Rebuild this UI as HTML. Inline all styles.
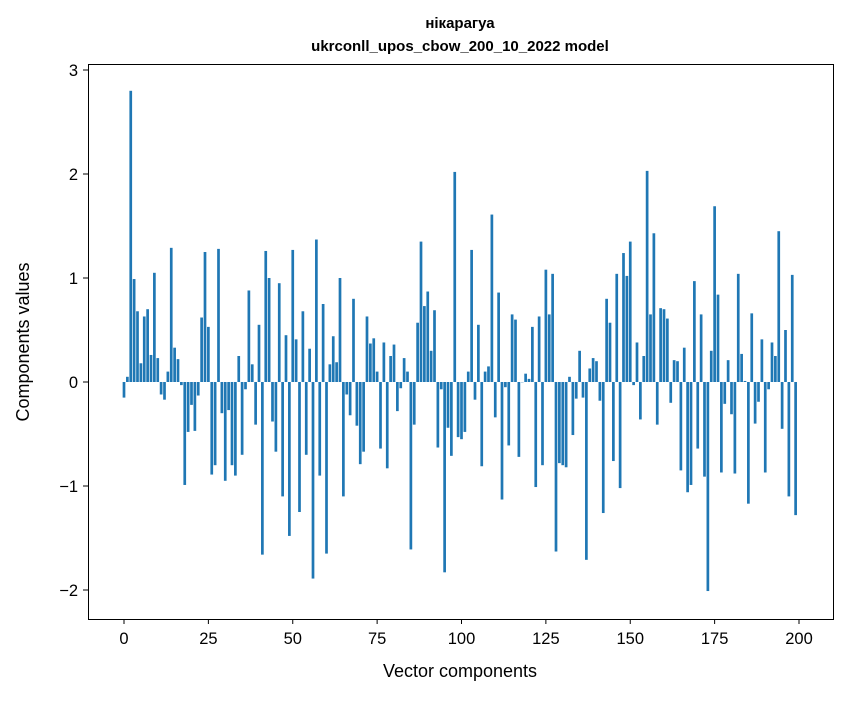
<!DOCTYPE html>
<html><head><meta charset="utf-8"><style>
body{margin:0;background:#fff;}
svg text{font-family:"Liberation Sans","DejaVu Sans",sans-serif;fill:#000;}
</style></head><body>
<svg id="chart" width="847" height="696" xmlns="http://www.w3.org/2000/svg">
<rect width="847" height="696" fill="#fff"/>
<text x="460" y="28" text-anchor="middle" font-size="15" font-weight="bold">нікарагуа</text>
<text x="460" y="51" text-anchor="middle" font-size="15" font-weight="bold">ukrconll_upos_cbow_200_10_2022 model</text>
<g id="bars"></g>
<g id="axes"></g>
<rect x="88.5" y="64.5" width="745" height="555" fill="none" stroke="#000" stroke-width="1"/>
<text x="460" y="677" text-anchor="middle" font-size="18">Vector components</text>
<text transform="translate(29,342) rotate(-90)" text-anchor="middle" font-size="18">Components values</text>
</svg>
<script>
const values = [-0.15,0.05,2.8,0.99,0.68,0.18,0.63,0.70,0.26,1.05,0.23,-0.12,-0.17,0.10,1.29,0.33,0.22,-0.03,-0.99,-0.48,
-0.22,-0.47,-0.13,0.62,1.25,0.53,-0.89,-0.80,1.28,-0.30,-0.95,-0.27,-0.80,-0.90,0.25,-0.70,-0.07,0.88,0.17,-0.41,
0.55,-1.66,1.26,1.0,-0.38,-0.67,0.95,-1.1,0.45,-1.48,1.27,0.41,-1.25,0.68,-0.70,0.32,-1.89,1.37,-0.90,0.75,
-1.65,0.17,0.44,0.19,1.0,-1.1,-0.12,-0.32,0.80,-0.42,-0.79,-0.67,0.63,0.37,0.42,0.10,-0.64,0.38,-0.83,0.25,
0.36,-0.28,-0.06,0.23,0.10,-1.61,-0.41,0.57,1.35,0.73,0.87,0.30,0.69,-0.63,-0.07,-1.83,-0.44,-0.71,2.02,-0.53,
-0.55,-0.48,0.10,1.27,-0.17,0.55,-0.81,0.10,0.15,1.61,-0.34,0.86,-1.13,-0.05,-0.61,0.65,0.60,-0.72,0.0,0.08,
0.03,0.53,-1.01,0.63,-0.80,1.08,0.65,1.04,-1.63,-0.78,-0.80,-0.82,0.05,-0.51,-0.16,0.30,-0.15,-1.71,0.13,0.23,
0.20,-0.18,-1.26,0.80,0.57,-0.76,1.04,-1.02,1.24,1.02,1.35,-0.03,0.38,-0.36,0.25,2.03,0.65,1.43,-0.41,0.71,
0.70,0.61,-0.20,0.21,0.20,-0.85,0.33,-1.06,-0.99,0.97,-0.64,0.65,-0.91,-2.01,0.30,1.69,0.84,-0.87,-0.21,0.21,
-0.31,-0.88,1.04,0.27,0.01,-1.17,0.66,-0.40,-0.19,0.41,-0.87,-0.07,0.38,0.25,1.45,-0.45,0.50,-1.10,1.03,-1.28];
const xTicks = [0,25,50,75,100,125,150,175,200];
const yTicks = [-2,-1,0,1,2,3];
const yTickLabels = ["\u22122","\u22121","0","1","2","3"];

const NS = "http://www.w3.org/2000/svg";
const xScale = i => 124 + 3.375 * i;
const yScale = v => 382 - 104 * v;
const barW = 0.8 * 3.375;
const bars = document.getElementById('bars');
values.forEach((v, i) => {
  const r = document.createElementNS(NS, 'rect');
  
  
  const y0 = yScale(0), y1 = yScale(v);
  r.setAttribute('x', xScale(i) - barW / 2);
  r.setAttribute('y', Math.min(y0, y1));
  r.setAttribute('width', barW);
  r.setAttribute('height', Math.max(Math.abs(y1 - y0), 0.3));
  r.setAttribute('fill', '#1f77b4');
  bars.appendChild(r);
});
const axes = document.getElementById('axes');
xTicks.forEach(t => {
  const x = xScale(t);
  const l = document.createElementNS(NS, 'line');
  
  
  l.setAttribute('x1', x); l.setAttribute('x2', x);
  l.setAttribute('y1', 619); l.setAttribute('y2', 624);
  l.setAttribute('stroke', '#000');
  axes.appendChild(l);
  const tx = document.createElementNS(NS, 'text');
  
  
  tx.setAttribute('x', x); tx.setAttribute('y', 644);
  tx.setAttribute('text-anchor', 'middle');
  tx.setAttribute('font-size', '16.5');
  tx.textContent = String(t);
  axes.appendChild(tx);
});
yTicks.forEach((t, k) => {
  const y = yScale(t);
  const l = document.createElementNS(NS, 'line');
  
  
  l.setAttribute('x1', 83); l.setAttribute('x2', 88);
  l.setAttribute('y1', y); l.setAttribute('y2', y);
  l.setAttribute('stroke', '#000');
  axes.appendChild(l);
  const tx = document.createElementNS(NS, 'text');
  
  
  tx.setAttribute('x', 78); tx.setAttribute('y', y + 6);
  tx.setAttribute('text-anchor', 'end');
  tx.setAttribute('font-size', '16.5');
  tx.textContent = yTickLabels[k];
  axes.appendChild(tx);
});
</script>
</body></html>
